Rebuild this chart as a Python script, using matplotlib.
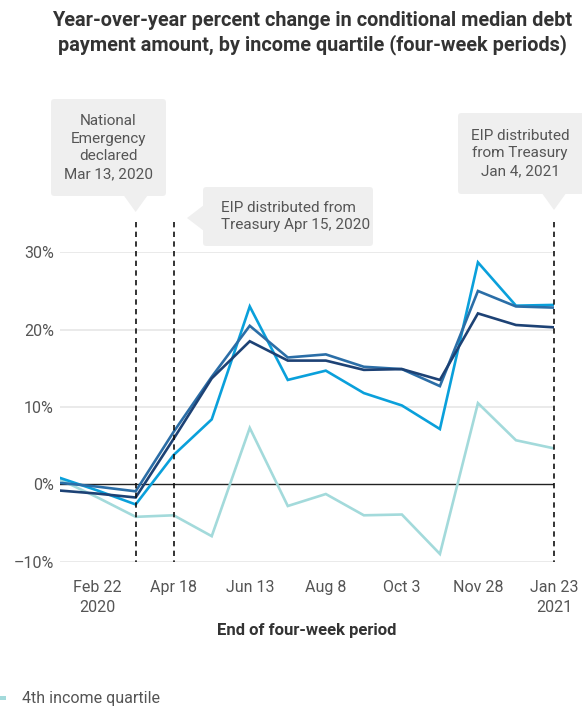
import matplotlib
matplotlib.use("Agg")
import matplotlib.pyplot as plt
import matplotlib.dates as mdates
from matplotlib.patches import FancyBboxPatch, Polygon
from matplotlib.lines import Line2D
from matplotlib.transforms import blended_transform_factory
import pandas as pd

# Four-week period end dates
period_end = ["2020-01-25", "2020-02-22", "2020-03-21", "2020-04-18", "2020-05-16",
              "2020-06-13", "2020-07-11", "2020-08-08", "2020-09-05", "2020-10-03",
              "2020-10-31", "2020-11-28", "2020-12-26", "2021-01-23"]

# Year-over-year % change in conditional median debt payment, by income quartile
q1 = [-0.8, -1.2, -1.7, 5.9, 13.7, 18.5, 16.0, 16.0, 14.8, 14.9, 13.5, 22.1, 20.6, 20.3]
q2 = [0.2, -0.3, -0.9, 6.8, 13.9, 20.5, 16.4, 16.8, 15.2, 14.9, 12.7, 25.0, 23.0, 22.85]
q3 = [0.85, -0.8, -2.6, 3.8, 8.4, 23.0, 13.5, 14.7, 11.8, 10.2, 7.15, 28.7, 23.1, 23.2]
q4 = [0.65, -1.7, -4.2, -4.0, -6.7, 7.3, -2.8, -1.25, -4.0, -3.9, -9.0, 10.5, 5.7, 4.65]

tick_dates = ["2020-02-22", "2020-04-18", "2020-06-13", "2020-08-08",
              "2020-10-03", "2020-11-28", "2021-01-23"]
tick_labels = ["Feb 22\n2020", "Apr 18", "Jun 13", "Aug 8", "Oct 3", "Nov 28", "Jan 23\n2021"]

y_ticks = [-10, 0, 10, 20, 30]
y_labels = ["\u201310%", "0%", "10%", "20%", "30%"]

event_dates = ["2020-03-21", "2020-04-18", "2021-01-23"]

series_colors = {"q1": "#1d4275", "q2": "#2b6ea7", "q3": "#0aa0db", "q4": "#a3dadb"}

FONT = "Roboto"
plt.rcParams["font.family"] = [FONT, "DejaVu Sans"]

W, H = 582, 707
fig = plt.figure(figsize=(W / 100, H / 100), dpi=100)


def fx(px):
    return px / W


def fy(py):
    return 1 - py / H


ax_left, ax_right, ax_top, ax_bottom = 59.6, 554.0, 252.3, 561.7
ax = fig.add_axes([fx(ax_left), fy(ax_bottom), fx(ax_right - ax_left), (ax_bottom - ax_top) / H])

x = pd.to_datetime(period_end)
ax.set_xlim(x[0], x[-1])
ax.set_ylim(-10, 30)

for v in [-10, 10, 20, 30]:
    ax.axhline(v, color="#e8e8e8", lw=1.3, zorder=0)
ax.axhline(0, color="#222222", lw=1.0, zorder=1)

for key, vals in [("q4", q4), ("q3", q3), ("q2", q2), ("q1", q1)]:
    ax.plot(x, vals, color=series_colors[key], lw=1.9, zorder=3, solid_joinstyle="miter")

for s in ax.spines.values():
    s.set_visible(False)

ax.set_yticks(y_ticks)
ax.set_yticklabels(y_labels)
ax.set_xticks(pd.to_datetime(tick_dates))
ax.set_xticklabels(tick_labels, linespacing=1.45)
ax.tick_params(axis="both", length=0, labelcolor="#555555", labelsize=11.5)
ax.tick_params(axis="y", pad=4)
ax.tick_params(axis="x", pad=13)
ax.set_xlabel("End of four-week period", fontsize=12, fontweight="bold", color="#333333", labelpad=6)

# Event markers: dashed verticals extending above the plot area
bt = blended_transform_factory(ax.transData, fig.transFigure)
ev = [mdates.date2num(pd.Timestamp(d)) for d in event_dates]
for e in ev:
    ax.add_line(Line2D([e, e], [fy(222), fy(ax_bottom)], transform=bt, clip_on=False,
                       color="#111111", lw=1.2, linestyle=(0, (3.2, 2.6)), zorder=4))

box_color = "#efefef"
text_color = "#555555"


def callout_box(x0, y0, x1, y1):
    fig.patches.append(FancyBboxPatch((fx(x0), fy(y1)), fx(x1 - x0), (y1 - y0) / H,
                                      boxstyle="round,pad=0,rounding_size=0.006",
                                      transform=fig.transFigure, facecolor=box_color,
                                      edgecolor="none", mutation_aspect=W / H))


# Box 1: national emergency
callout_box(51, 99, 166, 196)
fig.patches.append(Polygon([(ev[0] - 9, fy(195)), (ev[0] + 9, fy(195)), (ev[0], fy(212))],
                           closed=True, transform=bt, facecolor=box_color, edgecolor="none"))
fig.text(fx(108.5), fy(147.5), "National\nEmergency\ndeclared\nMar 13, 2020", ha="center", va="center",
         fontsize=11, color=text_color, linespacing=1.35)

# Box 2: first EIP
callout_box(203, 187, 373, 246)
fig.patches.append(Polygon([(fx(204), fy(205)), (fx(204), fy(231)), (fx(187), fy(218))],
                           closed=True, transform=fig.transFigure, facecolor=box_color, edgecolor="none"))
fig.text(fx(221), fy(216.5), "EIP distributed from\nTreasury Apr 15, 2020", ha="left", va="center",
         fontsize=11, color=text_color, linespacing=1.35)

# Box 3: second EIP
callout_box(458, 113, 590, 194)
fig.patches.append(Polygon([(ev[2] - 9, fy(193)), (ev[2] + 9, fy(193)), (ev[2], fy(210))],
                           closed=True, transform=bt, facecolor=box_color, edgecolor="none"))
fig.text(fx(520), fy(153.5), "EIP distributed\nfrom Treasury\nJan 4, 2021", ha="center", va="center",
         fontsize=11, color=text_color, linespacing=1.35)

# Title
fig.text(fx(312), fy(33), "Year-over-year percent change in conditional median debt\n"
         "payment amount, by income quartile (four-week periods)",
         ha="center", va="center", fontsize=14.3, fontweight="bold", color="#333333", linespacing=1.3)

# Legend entry
fig.patches.append(plt.Rectangle((fx(0), fy(700)), fx(6), 4 / H, transform=fig.transFigure,
                                 facecolor=series_colors["q4"], edgecolor="none"))
fig.text(fx(22), fy(698), "4th income quartile", ha="left", va="center", fontsize=11.5, color=text_color)

fig.savefig("out.png", dpi=100)
